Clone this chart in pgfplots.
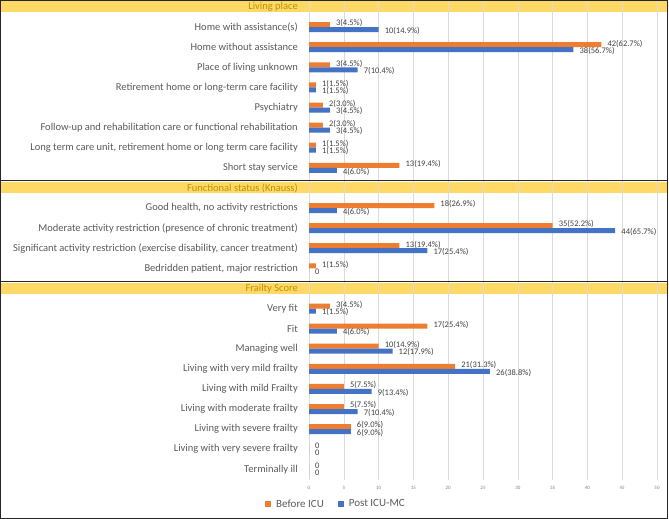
\documentclass[border=0pt]{standalone}
\usepackage{fontspec}
\setmainfont{Carlito}
\usepackage{pgfplots}
\pgfplotsset{compat=1.18}
\definecolor{bef}{HTML}{ED7D31}
\definecolor{pst}{HTML}{4472C4}
\definecolor{band}{HTML}{FFD966}
\definecolor{hdr}{HTML}{BF9000}
\definecolor{txt}{HTML}{595959}
\definecolor{lbl}{HTML}{404040}
\begin{document}
\begin{tikzpicture}[x=1pt,y=1pt]
\path[use as bounding box] (0,0) rectangle (669,519);
\fill[band] (0,506.5) rectangle (667,519);
\fill[band] (0,325.5) rectangle (667,337);
\fill[band] (0,224.5) rectangle (667,236);
\begin{axis}[
  at={(309pt,39pt)}, anchor=south west,
  scale only axis, width=348pt, height=480pt,
  xmin=0, xmax=50, ymin=-0.348, ymax=23.53, y dir=reverse,
  xbar, bar width=5pt,
  clip=false,
  axis line style={draw=none},
  major tick length=0pt,
  xtick={0,5,...,50},
  xmajorgrids, grid style={draw=gray!28, line width=0.6pt},
  /pgf/number format/assume math mode=true,
  xticklabel style={font=\fontsize{5}{6}\selectfont, text=gray, inner sep=0pt},
  xticklabel shift=6pt,
  ytick={0,...,23},
  yticklabels={{\textcolor{hdr}{Living place}},
    {Home with assistance(s)},
    {Home without assistance},
    {Place of living unknown},
    {Retirement home or long-term care facility},
    {Psychiatry},
    {Follow-up and rehabilitation care or functional rehabilitation},
    {Long term care unit, retirement home or long term care facility},
    {Short stay service},
    {\textcolor{hdr}{Functional status (Knauss)}},
    {Good health, no activity restrictions},
    {Moderate activity restriction (presence of chronic treatment)},
    {Significant activity restriction (exercise disability, cancer treatment)},
    {Bedridden patient, major restriction},
    {\textcolor{hdr}{Frailty Score}},
    {Very fit},{Fit},{Managing well},{Living with very mild frailty},
    {Living with mild Frailty},{Living with moderate frailty},
    {Living with severe frailty},{Living with very severe frailty},
    {Terminally ill}},
  yticklabel style={font=\fontsize{10.5}{12}\selectfont, text=txt, inner sep=0pt},
  yticklabel shift=11pt,
  point meta=explicit symbolic,
  nodes near coords,
  every node near coord/.append style={font=\fontsize{8.5}{9}\selectfont, text=lbl, anchor=west, inner sep=0pt, xshift=6pt},
  legend style={draw=none, fill=none, at={(axis description cs:-0.135,-0.05)}, anchor=west,
    font=\fontsize{11}{13}\selectfont, text=txt, legend columns=2,
    /tikz/every odd column/.append style={column sep=3pt},
    /tikz/every even column/.append style={column sep=12pt}},
  legend image code/.code={\fill[#1] (0pt,-3pt) rectangle (6pt,3pt);},
]
\addplot[fill=bef, draw=none, bar shift=2.5pt,
  every node near coord/.append style={yshift=1.2pt}] coordinates {
  (3,1)[3(4.5\%)] (42,2)[42(62.7\%)] (3,3)[3(4.5\%)] (1,4)[1(1.5\%)]
  (2,5)[2(3.0\%)] (2,6)[2(3.0\%)] (1,7)[1(1.5\%)] (13,8)[13(19.4\%)]
  (18,10)[18(26.9\%)] (35,11)[35(52.2\%)] (13,12)[13(19.4\%)] (1,13)[1(1.5\%)]
  (3,15)[3(4.5\%)] (17,16)[17(25.4\%)] (10,17)[10(14.9\%)] (21,18)[21(31.3\%)]
  (5,19)[5(7.5\%)] (5,20)[5(7.5\%)] (6,21)[6(9.0\%)] (0,22)[0] (0,23)[0]
};
\addlegendentry{Before ICU}
\addplot[fill=pst, draw=none, bar shift=-2.5pt,
  every node near coord/.append style={yshift=-1.2pt}] coordinates {
  (10,1)[10(14.9\%)] (38,2)[38(56.7\%)] (7,3)[7(10.4\%)] (1,4)[1(1.5\%)]
  (3,5)[3(4.5\%)] (3,6)[3(4.5\%)] (1,7)[1(1.5\%)] (4,8)[4(6.0\%)]
  (4,10)[4(6.0\%)] (44,11)[44(65.7\%)] (17,12)[17(25.4\%)] (0,13)[0]
  (1,15)[1(1.5\%)] (4,16)[4(6.0\%)] (12,17)[12(17.9\%)] (26,18)[26(38.8\%)]
  (9,19)[9(13.4\%)] (7,20)[7(10.4\%)] (6,21)[6(9.0\%)] (0,22)[0] (0,23)[0]
};
\addlegendentry{Post ICU-MC}
\end{axis}
\draw[black!85, line width=1pt] (0,338) -- (667,338);
\draw[black!85, line width=1pt] (0,237) -- (667,237);
\draw[black!85, line width=1.2pt] (0.6,0.6) rectangle (667.4,518.4);
\end{tikzpicture}
\end{document}
